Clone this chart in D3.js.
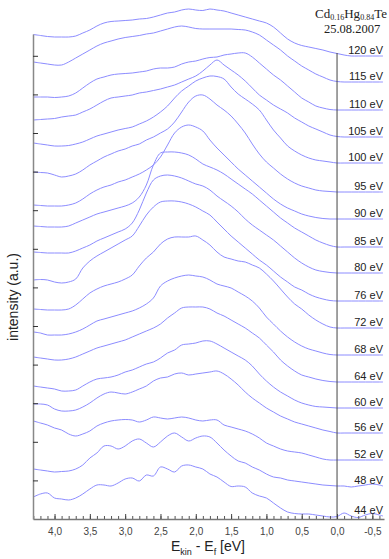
<!DOCTYPE html>
<html>
<head>
<meta charset="utf-8">
<script src="https://cdn.jsdelivr.net/npm/d3@7"></script>
<style>
  body { margin: 0; background: #fff; }
  text { font-family: "Liberation Sans", Arial, sans-serif; }
</style>
</head>
<body>
<svg width="389" height="559"></svg>
<script>
// binding energy grid (E_kin - E_f, eV)
var energies = [4.3, 4.2, 4.1, 4.0, 3.9, 3.8, 3.7, 3.6, 3.5, 3.4, 3.3, 3.2, 3.1, 3.0, 2.9, 2.8, 2.7,
  2.6, 2.5, 2.4, 2.3, 2.2, 2.1, 2.0, 1.9, 1.8, 1.7, 1.6, 1.5, 1.4, 1.3, 1.2, 1.1, 1.0, 0.9, 0.8,
  0.7, 0.6, 0.5, 0.4, 0.3, 0.2, 0.1, 0.0, -0.1, -0.2, -0.3, -0.4, -0.5, -0.6, -0.65];

// photon energies, top to bottom
var photonEnergies = [120, 115, 110, 105, 100, 95, 90, 85, 80, 76, 72, 68, 64, 60, 56, 52, 48, 44];

// vertical offset of each spectrum (a.u.)
var offsets = [46.3, 43.7, 40.9, 38.2, 35.6, 32.7, 30.0, 27.2, 24.6, 21.8, 19.1, 16.4, 13.7, 11.1, 8.6, 5.9, 3.3, 0.3];

// spectra (a.u., above offset)
var s120 = [2.15,2.05,1.95,1.9,1.9,1.9,2.0,2.3,2.6,3.0,3.3,3.45,3.5,3.55,3.6,3.7,3.75,3.9,4.1,4.3,4.4,4.6,4.7,4.6,4.55,4.7,4.6,4.5,4.3,4.1,3.9,3.7,3.5,3.3,2.9,2.3,1.7,1.3,1.05,0.9,0.75,0.6,0.4,0.25,0.1,0,0,0,0,0,0];
var s115 = [2.0,1.9,1.8,1.7,1.7,2.0,2.4,2.8,3.2,3.6,3.9,4.1,4.3,4.45,4.55,4.65,4.8,4.9,5.1,5.3,5.5,5.6,5.5,5.35,5.3,5.3,5.3,5.3,5.3,5.25,5.2,5.0,4.7,4.2,3.7,3.2,2.6,2.1,1.6,1.2,0.8,0.5,0.2,0.05,0,0,0,0,0,0,0];
var s110 = [1.3,1.3,1.3,1.25,1.3,1.4,1.7,2.2,2.7,3.1,3.3,3.5,3.6,3.65,3.7,3.8,3.9,4.1,4.2,4.2,4.3,4.6,4.8,4.9,5.1,5.25,5.3,5.5,5.6,5.7,5.7,5.3,4.7,4.1,3.5,3.0,2.4,1.8,1.2,0.8,0.4,0.2,0.05,0,0,0,0,0,0,0,0];
var s105 = [1.7,1.75,1.8,1.85,2.0,2.1,2.2,2.5,2.8,3.2,3.6,3.9,4.0,4.1,4.2,4.4,4.5,4.65,4.8,5.0,5.2,5.5,5.8,6.1,6.6,7.2,7.7,7.2,6.7,6.2,5.6,4.9,4.2,3.7,3.2,2.8,2.4,1.9,1.5,1.1,0.8,0.5,0.2,0.05,0,0,0,0,0,0,0];
var s100 = [2.0,1.9,1.8,1.7,1.7,1.75,1.9,2.1,2.4,2.7,2.9,3.1,3.3,3.45,3.6,3.9,4.2,4.6,5.1,5.7,6.5,7.2,7.7,8.2,8.5,8.7,8.65,8.4,7.6,6.9,6.4,5.9,5.3,4.3,3.3,2.5,1.7,1.2,0.8,0.5,0.3,0.2,0.1,0,0,0,0,0,0,0,0];
var s95 = [2.0,1.95,1.9,1.7,1.5,1.6,1.8,2.2,2.7,3.1,3.5,3.8,4.1,4.3,4.6,4.8,5.2,5.5,5.9,6.3,7.0,8.0,9.0,9.6,9.7,9.3,8.7,8.2,7.6,6.8,5.9,4.8,3.8,3.0,2.4,1.8,1.3,0.9,0.6,0.4,0.2,0.1,0.05,0,0,0,0,0,0,0,0];
var s90 = [1.4,1.35,1.3,1.3,1.3,1.4,1.6,2.0,2.5,2.9,3.2,3.4,3.7,3.9,4.2,4.5,4.9,5.4,6.2,7.4,8.6,9.2,9.4,9.2,8.8,7.9,7.1,6.4,5.7,5.0,4.4,3.8,3.2,2.6,2.0,1.5,1.1,0.8,0.5,0.3,0.15,0.05,0,0,0,0,0,0,0,0,0];
var s85 = [2.1,2.05,2.0,2.0,2.0,2.1,2.4,2.7,3.0,3.3,3.5,3.7,3.9,4.1,4.4,5.0,6.2,8.2,9.4,9.5,9.5,9.4,9.2,8.8,8.3,8.0,7.7,7.3,6.8,6.3,5.8,5.3,4.7,4.1,3.5,2.9,2.4,1.9,1.5,1.1,0.7,0.4,0.15,0,0,0,0,0,0,0,0];
var s80 = [2.1,2.05,2.0,2.0,2.0,2.0,2.2,2.5,2.8,3.2,3.5,3.8,4.1,4.4,5.0,6.3,8.0,9.3,9.7,9.8,9.7,9.5,9.2,8.9,8.7,8.3,7.7,7.2,6.7,6.1,5.4,4.8,4.3,3.8,3.3,2.7,2.1,1.5,1.0,0.6,0.3,0.15,0.05,0,0,0,0,0,0,0,0];
var s76 = [2.1,2.15,2.1,1.9,1.8,1.9,2.2,3.3,4.0,4.5,4.9,5.3,5.7,6.1,6.5,7.5,8.6,9.4,9.9,10.0,10.0,9.9,9.7,9.4,9.0,8.6,7.9,7.2,6.5,5.9,5.3,4.7,4.1,3.6,3.0,2.4,1.9,1.4,1.1,0.7,0.4,0.2,0.05,0,0,0,0,0,0,0,0];
var s72 = [1.9,1.85,1.8,1.8,1.8,1.9,2.3,2.9,3.5,3.9,4.2,4.4,4.6,4.9,5.3,6.2,7.0,7.6,8.4,8.9,9.1,9.1,9.1,9.2,8.8,8.3,7.6,7.1,6.9,6.7,6.6,6.3,6.0,5.4,4.7,3.9,3.1,2.4,1.9,1.3,0.8,0.4,0.1,0,0,0,0,0,0,0,0];
var s68 = [2.3,2.2,2.0,2.0,2.0,2.1,2.3,2.6,3.0,3.4,3.6,3.8,4.0,4.2,4.4,4.7,5.1,5.7,6.9,7.4,7.7,7.9,8.0,7.9,7.8,7.5,7.1,6.9,6.7,6.3,5.9,5.4,4.7,3.8,3.1,2.4,1.8,1.3,0.9,0.6,0.4,0.2,0.05,0,0,0,0,0,0,0,0];
var s64 = [2.5,2.4,2.3,2.2,2.2,2.3,2.5,2.8,3.1,3.4,3.6,3.8,4.0,4.2,4.5,4.8,5.1,5.4,5.8,6.4,6.9,7.4,7.5,7.5,7.5,7.3,6.9,6.6,6.2,5.8,5.4,4.9,4.4,3.7,3.0,2.2,1.6,1.1,0.7,0.5,0.3,0.15,0.05,0,0,0,0,0,0,0,0];
var s60 = [2.2,2.1,2.0,1.9,1.7,1.7,1.8,2.2,2.6,2.9,3.0,3.1,3.3,3.6,3.8,4.1,4.4,4.6,5.0,5.5,5.8,6.3,6.4,6.5,6.7,6.7,6.4,6.0,5.6,5.2,4.8,4.2,3.4,2.7,2.1,1.6,1.2,0.8,0.5,0.3,0.15,0.1,0.05,0,0,0,0,0,0,0,0];
var s56 = [2.9,2.9,2.8,2.4,2.2,2.2,2.3,2.6,3.0,3.5,3.9,4.1,4.0,3.9,4.1,4.4,4.7,5.2,5.5,5.6,5.9,6.0,5.8,5.9,6.0,6.1,6.2,5.9,5.4,4.8,4.1,3.5,3.0,2.5,2.1,1.7,1.4,1.1,0.9,0.7,0.5,0.3,0.15,0,0,0,0,0,0,0,0];
var s52 = [3.9,3.7,3.5,3.2,3.0,2.6,2.4,2.6,2.9,3.4,3.7,3.9,4.0,4.05,4.0,3.8,4.0,4.3,4.2,4.1,4.2,4.3,4.2,4.0,3.9,4.0,4.0,3.5,3.3,3.1,2.9,2.6,2.2,1.7,1.4,1.1,0.9,0.8,0.7,0.5,0.3,0.1,0,0,0,0,0,0,0,0,0];
var s48 = [1.7,1.6,1.5,1.4,1.45,1.5,1.7,2.1,2.8,3.3,4.0,4.0,3.7,4.0,4.5,4.7,4.3,3.9,4.4,5.0,5.3,4.9,4.5,4.8,5.0,4.9,4.3,3.6,3.0,2.5,2.3,1.9,1.6,1.2,0.9,0.8,0.6,0.5,0.4,0.3,0.2,0.1,0.05,0,0,-0.1,0,0.1,0.2,0.1,0];
var s44 = [1.9,2.2,2.3,1.8,1.7,1.6,1.8,2.2,2.7,3.1,3.1,3.0,3.3,3.7,3.8,3.5,4.1,4.0,4.9,4.7,4.4,5.0,5.1,4.9,4.7,4.2,3.9,3.4,2.95,3.0,2.9,2.3,2.0,1.8,1.3,0.8,0.4,0.25,0.2,0.2,0.1,0,-0.1,-0.05,0.3,0,-0.15,0.1,0.25,0.1,0];

var spectra = [s120, s115, s110, s105, s100, s95, s90, s85, s80, s76, s72, s68, s64, s60, s56, s52, s48, s44];

var xMajorTicks = [4.0, 3.5, 3.0, 2.5, 2.0, 1.5, 1.0, 0.5, 0.0, -0.5];
var xMinorTicks = d3.range(43, -7, -1).map(function (i) { return i / 10; });
var yTickStep = 3.86;

var svg = d3.select("svg");
var plotLeft = 33, plotRight = 384, plotTop = 34, plotBottom = 519;

var x = d3.scaleLinear().domain([4.305, -0.665]).range([plotLeft, plotRight]);
var y = d3.scaleLinear().domain([0, 48.5]).range([plotBottom, plotTop]);

// spectra
var line = d3.line()
    .x(function (d) { return x(d[0]); })
    .y(function (d) { return y(d[1]); })
    .curve(d3.curveCatmullRom.alpha(0.5));

svg.append("g").selectAll("path")
    .data(spectra)
    .enter().append("path")
    .attr("fill", "none")
    .attr("stroke", "#8c8cff")
    .attr("stroke-width", 1)
    .attr("d", function (s, i) {
        var pts = energies.map(function (e, j) { return [e, offsets[i] + s[j]]; })
            .filter(function (p) { return !isNaN(p[1]); });
        return line(pts);
    });

// Fermi level marker
svg.append("line")
    .attr("x1", x(0)).attr("x2", x(0))
    .attr("y1", y(offsets[0] + 0.3)).attr("y2", plotBottom)
    .attr("stroke", "#444")
    .attr("stroke-width", 1);

// x axis: minor ticks, then major ticks with labels
var fmt = function (d) { return d3.format(".1f")(d).replace("\u2212", "-").replace(".", ","); };

var xMinor = svg.append("g")
    .attr("transform", "translate(0," + plotBottom + ")")
    .call(d3.axisBottom(x).tickValues(xMinorTicks).tickSize(-3).tickFormat(""));
xMinor.select(".domain").remove();
xMinor.selectAll("line").attr("stroke", "#555");

var xaxis = svg.append("g")
    .attr("transform", "translate(0," + plotBottom + ")")
    .call(d3.axisBottom(x).tickValues(xMajorTicks).tickSizeInner(-5).tickSizeOuter(0)
        .tickPadding(9).tickFormat(fmt));
xaxis.select(".domain").attr("stroke", "#777").attr("stroke-width", 1.5);
xaxis.selectAll("line").attr("stroke", "#444");
xaxis.selectAll("text")
    .attr("font-size", "10px")
    .attr("fill", "#444")
    .style("font-family", "'Liberation Sans', Arial, sans-serif");

// y axis: unlabelled ticks
var yTicks = d3.range(1, 13).map(function (i) { return i * yTickStep; });
var yaxis = svg.append("g")
    .attr("transform", "translate(" + plotLeft + ",0)")
    .call(d3.axisLeft(y).tickValues(yTicks).tickSizeInner(-5).tickSizeOuter(0).tickFormat(""));
yaxis.select(".domain").attr("stroke", "#888").attr("stroke-width", 1.5);
yaxis.selectAll("line").attr("stroke", "#333");

// photon energy labels
svg.append("g").selectAll("text")
    .data(photonEnergies)
    .enter().append("text")
    .attr("x", plotRight - 1)
    .attr("y", function (d, i) { return y(offsets[i]) - 2; })
    .attr("text-anchor", "end")
    .attr("font-size", "11px")
    .attr("fill", "#222")
    .text(function (d) { return d + " eV"; });

// axis titles
var xt = svg.append("text")
    .attr("x", 208)
    .attr("y", 551)
    .attr("text-anchor", "middle")
    .attr("font-size", "14px")
    .attr("fill", "#222");
xt.append("tspan").text("E");
xt.append("tspan").attr("font-size", "9px").attr("dy", 3.5).text("kin");
xt.append("tspan").attr("dy", -3.5).text(" - E");
xt.append("tspan").attr("font-size", "9px").attr("dy", 3.5).text("f");
xt.append("tspan").attr("dy", -3.5).text(" [eV]");

svg.append("text")
    .attr("transform", "translate(18,297) rotate(-90)")
    .attr("text-anchor", "middle")
    .attr("font-size", "14px")
    .attr("fill", "#222")
    .text("intensity (a.u.)");

// sample and date
var title = svg.append("text")
    .attr("x", 351)
    .attr("y", 18)
    .attr("text-anchor", "middle")
    .attr("font-size", "13px")
    .attr("fill", "#222")
    .style("font-family", "'Liberation Serif', 'Times New Roman', serif");
title.append("tspan").text("Cd");
title.append("tspan").attr("font-size", "8px").attr("dy", 2).text("0.16");
title.append("tspan").attr("dy", -2).text("Hg");
title.append("tspan").attr("font-size", "8px").attr("dy", 2).text("0.84");
title.append("tspan").attr("dy", -2).text("Te");

svg.append("text")
    .attr("x", 352)
    .attr("y", 33)
    .attr("text-anchor", "middle")
    .attr("font-size", "12.5px")
    .attr("fill", "#222")
    .style("font-family", "'Liberation Serif', 'Times New Roman', serif")
    .text("25.08.2007");
</script>
</body>
</html>
